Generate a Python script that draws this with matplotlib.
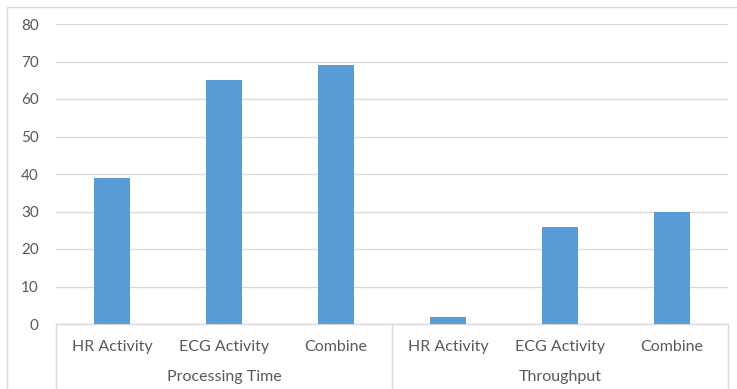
import matplotlib
matplotlib.use("Agg")
import matplotlib.pyplot as plt
from matplotlib.patches import Rectangle
from matplotlib.lines import Line2D

groups = ["Processing Time", "Throughput"]
categories = ["HR Activity", "ECG Activity", "Combine"]
values_processing = [39, 65, 69]
values_throughput = [2, 26, 30]
yticks = [0, 10, 20, 30, 40, 50, 60, 70, 80]

W, H = 737, 389
fig = plt.figure(figsize=(W / 100, H / 100), dpi=100)
plt.rcParams['font.family'] = ['Lato', 'DejaVu Sans']

x0, x1 = 56, 728
y0, y1 = 324, 24
ax = fig.add_axes([x0 / W, 1 - y0 / H, (x1 - x0) / W, (y0 - y1) / H])

labels = categories + categories
values = values_processing + values_throughput
xs = list(range(len(values)))
ax.bar(xs, values, width=0.32, color="#5B9BD5", zorder=3)
ax.set_xlim(-0.5, len(values) - 0.5)
ax.set_ylim(0, 80)
ax.set_yticks(yticks)
ax.yaxis.grid(True, color="#D9D9D9", linewidth=1.0, zorder=0)
ax.set_axisbelow(True)
for s in ["top", "right", "left"]:
    ax.spines[s].set_visible(False)
ax.spines["bottom"].set_color("#D9D9D9")
ax.spines["bottom"].set_linewidth(1.0)
ax.tick_params(axis="y", length=0, pad=12.5, labelsize=11, labelcolor="#595959")
ax.set_xticks([])

# category labels
for x, lab in zip(xs, labels):
    fig.text((x0 + (x + 0.5) * (x1 - x0) / 6) / W, 1 - 347 / H, lab,
             ha="center", va="center", fontsize=11.5, color="#595959")
for gi, g in enumerate(groups):
    fig.text((x0 + (gi * 3 + 1.5) * (x1 - x0) / 6) / W, 1 - 377 / H, g,
             ha="center", va="center", fontsize=11.5, color="#595959")
# group separator lines
for xp in [x0, (x0 + x1) / 2, x1]:
    fig.add_artist(Line2D([xp / W, xp / W], [1 - y0 / H, 0], color="#D9D9D9",
                          linewidth=1.0, transform=fig.transFigure))

# outer chart frame
fig.add_artist(Rectangle((7 / W, -0.05), 1.2, 1 - 7 / H + 0.05, fill=False,
                         edgecolor="#D9D9D9", linewidth=1.0,
                         transform=fig.transFigure))

fig.savefig("out.png", dpi=100)
